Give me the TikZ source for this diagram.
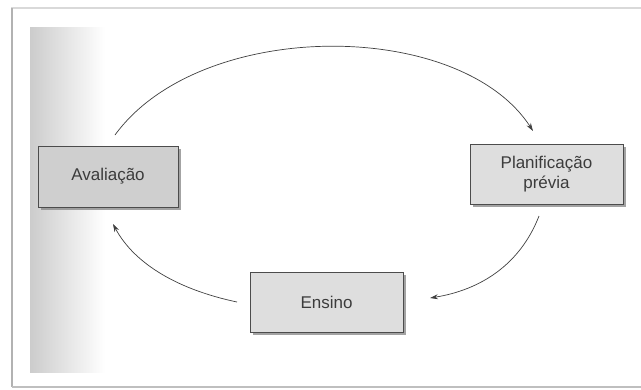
\documentclass[tikz,border=0pt]{standalone}
\usepackage{fontspec}
\setmainfont{Liberation Sans}
\usetikzlibrary{arrows.meta,shadows}
\definecolor{txt}{HTML}{3C3C3C}
\definecolor{boxA}{HTML}{CFCFCF}
\definecolor{boxB}{HTML}{DEDEDE}
\tikzset{
  box/.style={draw=black!70, line width=0.9pt, text=txt, inner sep=0pt,
    font=\fontsize{17}{20}\selectfont, align=center,
    drop shadow={shadow xshift=3pt, shadow yshift=-3pt, fill=black!45, opacity=0.8}},
  conn/.style={draw=black!75, line width=0.7pt, -{Stealth[length=8pt,width=5pt]}}
}
\begin{document}
\begin{tikzpicture}[x=1pt,y=-1pt]
\useasboundingbox (0,0) rectangle (641,389);
% page frame
\fill[white] (0,0) rectangle (641,389);
\draw[black!15, line width=2pt] (11,8) -- (641,8);
\draw[black!30, line width=2pt] (12,8) -- (12,387);
\draw[black!25, line width=2pt] (12,387) -- (641,387);
% scanned gray margin
\shade[left color=black!20, right color=white] (30,27) rectangle (105,372);
% boxes
\node[box, fill=boxA, minimum width=140pt, minimum height=61pt] (av) at (108,176.5) {Avaliação};
\node[box, fill=boxB, minimum width=153pt, minimum height=60pt] (pl) at (546.5,174) {Planificação\\prévia};
\node[box, fill=boxB, minimum width=153pt, minimum height=60pt] (en) at (326.5,302) {Ensino};
% connectors
\coordinate (a1) at (115,135);
\coordinate (a2) at (533,131);
\coordinate (b1) at (539,216);
\coordinate (b2) at (430,298);
\coordinate (c1) at (237,302);
\coordinate (c2) at (113,224);
\draw[conn] (a1) .. controls (200,18) and (460,18) .. (a2);
\draw[conn] (b1) .. controls (520,265) and (480,290) .. (b2);
\draw[conn] (c1) .. controls (180,290) and (135,265) .. (c2);
\end{tikzpicture}
\end{document}
